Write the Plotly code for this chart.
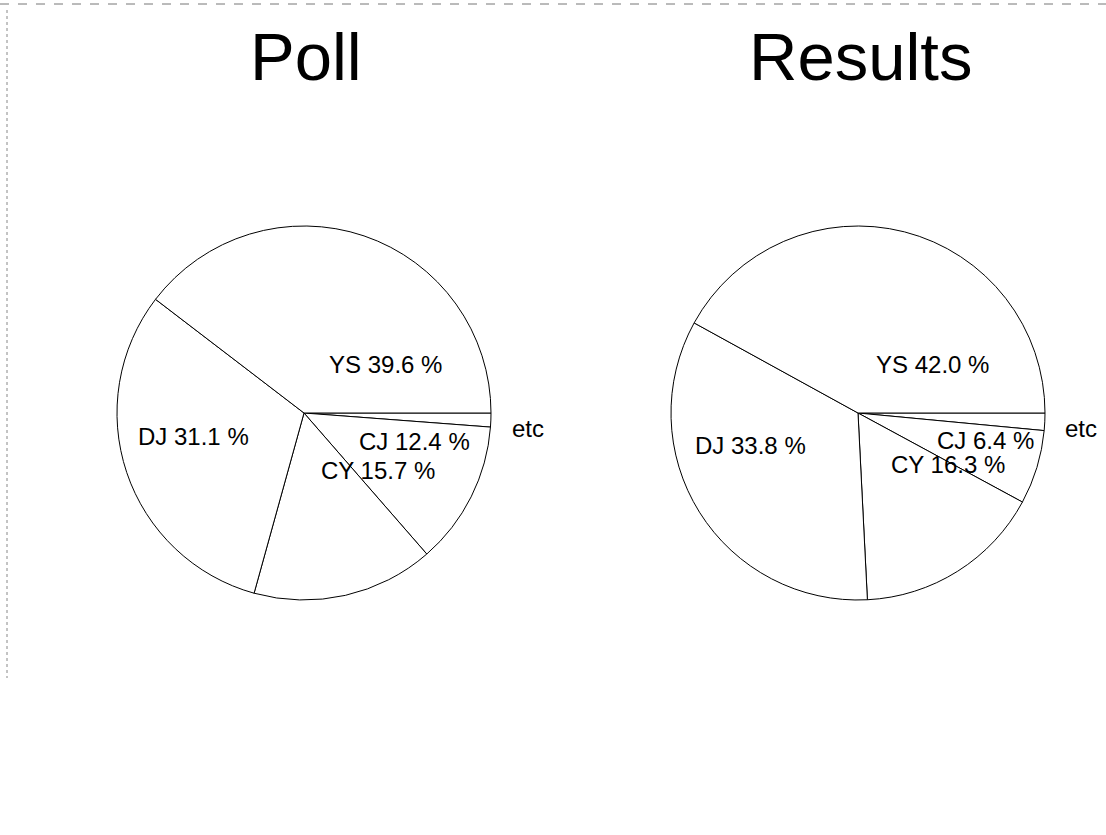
import plotly.graph_objects as go

W, H = 1106, 835

# Data
parties = ["YS", "DJ", "CY", "CJ", "etc"]
poll_values = [39.6, 31.1, 15.7, 12.4, 1.2]
result_values = [42.0, 33.8, 16.3, 6.4, 1.5]
titles = ["Poll", "Results"]

# label pixel positions (label placement only)
poll_label_pos = [(385, 364), (193, 436), (378, 470), (414, 441), (528, 428)]
result_label_pos = [(932, 364), (750, 445), (948, 464), (985, 440), (1081, 428)]


def px(x):
    return x / W


def py(y):
    return 1 - y / H


def label_text(name, v):
    return "etc" if name == "etc" else f"{name} {v:.1f} %"


R = 187
centers = [(304, 413), (858, 413)]

fig = go.Figure()
for (cx, cy), vals in zip(centers, [poll_values, result_values]):
    # slices run counterclockwise from 3 o'clock: drawn clockwise in reverse order
    fig.add_trace(go.Pie(
        labels=parties[::-1],
        values=vals[::-1],
        sort=False,
        direction="clockwise",
        rotation=90,
        textinfo="none",
        hoverinfo="label+percent",
        marker=dict(colors=["white"] * len(parties),
                    line=dict(color="black", width=1)),
        domain=dict(x=[px(cx - R), px(cx + R)], y=[py(cy + R), py(cy - R)]),
        showlegend=False,
    ))

annotations = []
for title, (cx, cy) in zip(titles, centers):
    annotations.append(dict(
        text=title, x=px(cx + 2), y=py(56), xref="paper", yref="paper",
        xanchor="center", yanchor="middle", showarrow=False,
        font=dict(family="Liberation Sans, Arial, sans-serif", size=67, color="black"),
    ))

for positions, vals in [(poll_label_pos, poll_values), (result_label_pos, result_values)]:
    for (lx, ly), name, v in zip(positions, parties, vals):
        annotations.append(dict(
            text=label_text(name, v), x=px(lx), y=py(ly), xref="paper", yref="paper",
            xanchor="center", yanchor="middle", showarrow=False,
            font=dict(family="Liberation Sans, Arial, sans-serif", size=24, color="black"),
        ))

shapes = [
    dict(type="line", xref="paper", yref="paper", x0=0, x1=1, y0=py(4), y1=py(4),
         line=dict(color="#777777", width=1, dash="dash")),
    dict(type="line", xref="paper", yref="paper", x0=px(7), x1=px(7), y0=py(10), y1=py(678),
         line=dict(color="#888888", width=1, dash="dot")),
]

fig.update_layout(
    width=W, height=H,
    margin=dict(l=0, r=0, t=0, b=0),
    paper_bgcolor="white", plot_bgcolor="white",
    annotations=annotations,
    shapes=shapes,
)

fig.write_html("out.html")
